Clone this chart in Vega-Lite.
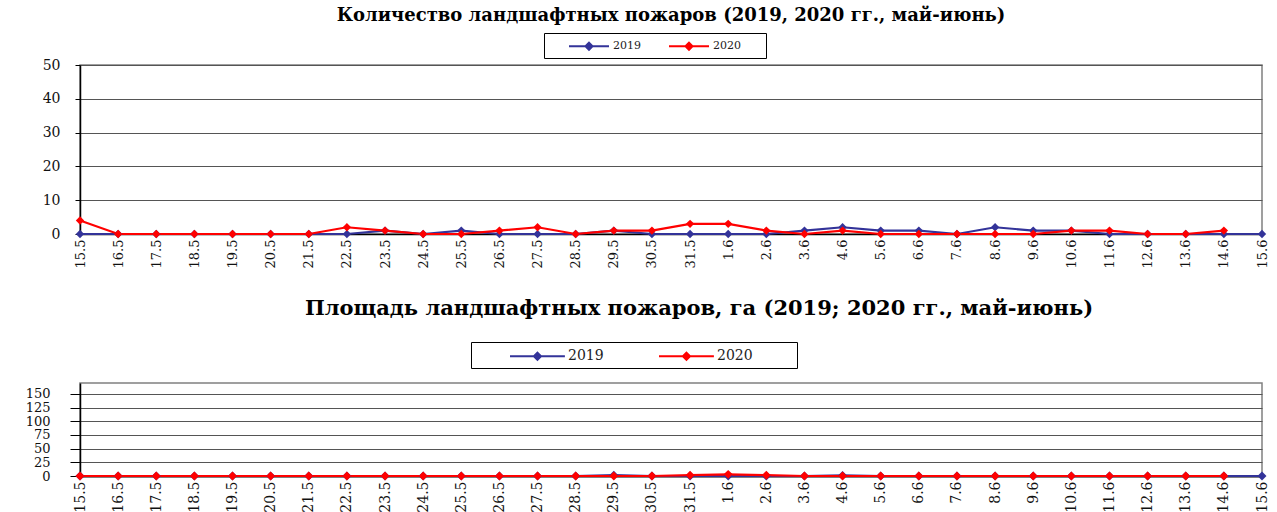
{
  "$schema": "https://vega.github.io/schema/vega-lite/v6.json",
  "background": "white",
  "padding": {"left": 24, "top": 5, "right": 5, "bottom": 0},
  "spacing": 27,
  "config": {
    "view": {"stroke": "#808080", "strokeWidth": 1.5},
    "font": "DejaVu Serif"
  },
  "datasets": {
    "count": [
      {"date": "15.5", "year": "2019", "value": 0},
      {"date": "16.5", "year": "2019", "value": 0},
      {"date": "17.5", "year": "2019", "value": 0},
      {"date": "18.5", "year": "2019", "value": 0},
      {"date": "19.5", "year": "2019", "value": 0},
      {"date": "20.5", "year": "2019", "value": 0},
      {"date": "21.5", "year": "2019", "value": 0},
      {"date": "22.5", "year": "2019", "value": 0},
      {"date": "23.5", "year": "2019", "value": 1},
      {"date": "24.5", "year": "2019", "value": 0},
      {"date": "25.5", "year": "2019", "value": 1},
      {"date": "26.5", "year": "2019", "value": 0},
      {"date": "27.5", "year": "2019", "value": 0},
      {"date": "28.5", "year": "2019", "value": 0},
      {"date": "29.5", "year": "2019", "value": 1},
      {"date": "30.5", "year": "2019", "value": 0},
      {"date": "31.5", "year": "2019", "value": 0},
      {"date": "1.6", "year": "2019", "value": 0},
      {"date": "2.6", "year": "2019", "value": 0},
      {"date": "3.6", "year": "2019", "value": 1},
      {"date": "4.6", "year": "2019", "value": 2},
      {"date": "5.6", "year": "2019", "value": 1},
      {"date": "6.6", "year": "2019", "value": 1},
      {"date": "7.6", "year": "2019", "value": 0},
      {"date": "8.6", "year": "2019", "value": 2},
      {"date": "9.6", "year": "2019", "value": 1},
      {"date": "10.6", "year": "2019", "value": 1},
      {"date": "11.6", "year": "2019", "value": 0},
      {"date": "12.6", "year": "2019", "value": 0},
      {"date": "13.6", "year": "2019", "value": 0},
      {"date": "14.6", "year": "2019", "value": 0},
      {"date": "15.6", "year": "2019", "value": 0},
      {"date": "15.5", "year": "2020", "value": 4},
      {"date": "16.5", "year": "2020", "value": 0},
      {"date": "17.5", "year": "2020", "value": 0},
      {"date": "18.5", "year": "2020", "value": 0},
      {"date": "19.5", "year": "2020", "value": 0},
      {"date": "20.5", "year": "2020", "value": 0},
      {"date": "21.5", "year": "2020", "value": 0},
      {"date": "22.5", "year": "2020", "value": 2},
      {"date": "23.5", "year": "2020", "value": 1},
      {"date": "24.5", "year": "2020", "value": 0},
      {"date": "25.5", "year": "2020", "value": 0},
      {"date": "26.5", "year": "2020", "value": 1},
      {"date": "27.5", "year": "2020", "value": 2},
      {"date": "28.5", "year": "2020", "value": 0},
      {"date": "29.5", "year": "2020", "value": 1},
      {"date": "30.5", "year": "2020", "value": 1},
      {"date": "31.5", "year": "2020", "value": 3},
      {"date": "1.6", "year": "2020", "value": 3},
      {"date": "2.6", "year": "2020", "value": 1},
      {"date": "3.6", "year": "2020", "value": 0},
      {"date": "4.6", "year": "2020", "value": 1},
      {"date": "5.6", "year": "2020", "value": 0},
      {"date": "6.6", "year": "2020", "value": 0},
      {"date": "7.6", "year": "2020", "value": 0},
      {"date": "8.6", "year": "2020", "value": 0},
      {"date": "9.6", "year": "2020", "value": 0},
      {"date": "10.6", "year": "2020", "value": 1},
      {"date": "11.6", "year": "2020", "value": 1},
      {"date": "12.6", "year": "2020", "value": 0},
      {"date": "13.6", "year": "2020", "value": 0},
      {"date": "14.6", "year": "2020", "value": 1}
    ],
    "area": [
      {"date": "15.5", "year": "2019", "value": 0},
      {"date": "16.5", "year": "2019", "value": 0},
      {"date": "17.5", "year": "2019", "value": 0},
      {"date": "18.5", "year": "2019", "value": 0},
      {"date": "19.5", "year": "2019", "value": 0},
      {"date": "20.5", "year": "2019", "value": 0},
      {"date": "21.5", "year": "2019", "value": 0},
      {"date": "22.5", "year": "2019", "value": 0},
      {"date": "23.5", "year": "2019", "value": 0},
      {"date": "24.5", "year": "2019", "value": 0},
      {"date": "25.5", "year": "2019", "value": 0},
      {"date": "26.5", "year": "2019", "value": 0},
      {"date": "27.5", "year": "2019", "value": 0},
      {"date": "28.5", "year": "2019", "value": 0},
      {"date": "29.5", "year": "2019", "value": 1.5},
      {"date": "30.5", "year": "2019", "value": 0},
      {"date": "31.5", "year": "2019", "value": 0},
      {"date": "1.6", "year": "2019", "value": 0},
      {"date": "2.6", "year": "2019", "value": 0},
      {"date": "3.6", "year": "2019", "value": 0},
      {"date": "4.6", "year": "2019", "value": 1},
      {"date": "5.6", "year": "2019", "value": 0},
      {"date": "6.6", "year": "2019", "value": 0},
      {"date": "7.6", "year": "2019", "value": 0},
      {"date": "8.6", "year": "2019", "value": 0},
      {"date": "9.6", "year": "2019", "value": 0},
      {"date": "10.6", "year": "2019", "value": 0},
      {"date": "11.6", "year": "2019", "value": 0},
      {"date": "12.6", "year": "2019", "value": 0},
      {"date": "13.6", "year": "2019", "value": 0},
      {"date": "14.6", "year": "2019", "value": 0},
      {"date": "15.6", "year": "2019", "value": 0},
      {"date": "15.5", "year": "2020", "value": 0},
      {"date": "16.5", "year": "2020", "value": 0},
      {"date": "17.5", "year": "2020", "value": 0},
      {"date": "18.5", "year": "2020", "value": 0},
      {"date": "19.5", "year": "2020", "value": 0},
      {"date": "20.5", "year": "2020", "value": 0},
      {"date": "21.5", "year": "2020", "value": 0},
      {"date": "22.5", "year": "2020", "value": 0},
      {"date": "23.5", "year": "2020", "value": 0},
      {"date": "24.5", "year": "2020", "value": 0},
      {"date": "25.5", "year": "2020", "value": 0},
      {"date": "26.5", "year": "2020", "value": 0},
      {"date": "27.5", "year": "2020", "value": 0},
      {"date": "28.5", "year": "2020", "value": 0},
      {"date": "29.5", "year": "2020", "value": 0},
      {"date": "30.5", "year": "2020", "value": 0},
      {"date": "31.5", "year": "2020", "value": 1.5},
      {"date": "1.6", "year": "2020", "value": 3},
      {"date": "2.6", "year": "2020", "value": 1.5},
      {"date": "3.6", "year": "2020", "value": 0},
      {"date": "4.6", "year": "2020", "value": 0},
      {"date": "5.6", "year": "2020", "value": 0},
      {"date": "6.6", "year": "2020", "value": 0},
      {"date": "7.6", "year": "2020", "value": 0},
      {"date": "8.6", "year": "2020", "value": 0},
      {"date": "9.6", "year": "2020", "value": 0},
      {"date": "10.6", "year": "2020", "value": 0},
      {"date": "11.6", "year": "2020", "value": 0},
      {"date": "12.6", "year": "2020", "value": 0},
      {"date": "13.6", "year": "2020", "value": 0},
      {"date": "14.6", "year": "2020", "value": 0}
    ]
  },
  "vconcat": [
    {
      "width": 1182,
      "height": 169,
      "data": {"name": "count"},
      "title": {
        "text": "Количество ландшафтных пожаров (2019, 2020  гг., май-июнь)",
        "font": "DejaVu Serif",
        "fontSize": 18,
        "fontWeight": "bold",
        "color": "black",
        "anchor": "middle",
        "offset": 8
      },
      "encoding": {
        "x": {
          "field": "date",
          "type": "ordinal",
          "sort": ["15.5","16.5","17.5","18.5","19.5","20.5","21.5","22.5","23.5","24.5","25.5","26.5","27.5","28.5","29.5","30.5","31.5","1.6","2.6","3.6","4.6","5.6","6.6","7.6","8.6","9.6","10.6","11.6","12.6","13.6","14.6","15.6"],
          "scale": {"type": "point", "padding": 0},
          "axis": {
            "title": null,
            "labelAngle": -90,
            "labelAlign": "right",
            "labelBaseline": "middle",
            "labelFont": "DejaVu Serif",
            "labelFontSize": 13,
            "labelColor": "#111",
            "labelPadding": 5,
            "ticks": false,
            "domainColor": "black",
            "domainWidth": 1.5,
            "grid": false
          }
        },
        "y": {
          "field": "value",
          "type": "quantitative",
          "scale": {"domain": [0, 50], "nice": false},
          "axis": {
            "title": null,
            "values": [0, 10, 20, 30, 40, 50],
            "grid": true,
            "gridColor": "#555",
            "gridWidth": 1,
            "domainColor": "black",
            "domainWidth": 1.5,
            "tickColor": "black",
            "tickSize": 5,
            "labelFont": "DejaVu Serif",
            "labelFontSize": 14,
            "labelColor": "#111",
            "labelPadding": 15
          }
        },
        "color": {
          "field": "year",
          "type": "nominal",
          "scale": {"domain": ["2019", "2020"], "range": ["#333399", "#ff0000"]},
          "legend": {
            "orient": "none",
            "legendX": 464,
            "legendY": -32,
            "direction": "horizontal",
            "title": " ",
            "titleOrient": "left",
            "titleFontSize": 11,
            "titlePadding": 20,
            "labelExpr": "datum.label == '2020' ? datum.label + '\u00a0\u00a0\u00a0\u00a0\u00a0\u00a0\u200b' : datum.label",
            "symbolType": "M-1,0H4M1.5,-0.44L1.94,0L1.5,0.44L1.06,0Z",
            "symbolSize": 256,
            "symbolStrokeWidth": 2,
            "strokeColor": "black",
            "padding": 4,
            "labelFont": "DejaVu Serif",
            "labelFontSize": 11,
            "labelColor": "#222",
            "labelOffset": 27,
            "columnPadding": 24
          }
        }
      },
      "layer": [
        {"mark": {"type": "line", "strokeWidth": 2.2}},
        {"mark": {"type": "point", "shape": "diamond", "filled": true, "size": 70, "opacity": 1}}
      ]
    },
    {
      "width": 1182,
      "height": 93,
      "data": {"name": "area"},
      "title": {
        "text": "Площадь ландшафтных пожаров, га (2019;  2020 гг.,  май-июнь)",
        "font": "DejaVu Serif",
        "fontSize": 21,
        "fontWeight": "bold",
        "color": "black",
        "anchor": "middle",
        "dx": 28,
        "offset": 23
      },
      "encoding": {
        "x": {
          "field": "date",
          "type": "ordinal",
          "sort": ["15.5","16.5","17.5","18.5","19.5","20.5","21.5","22.5","23.5","24.5","25.5","26.5","27.5","28.5","29.5","30.5","31.5","1.6","2.6","3.6","4.6","5.6","6.6","7.6","8.6","9.6","10.6","11.6","12.6","13.6","14.6","15.6"],
          "scale": {"type": "point", "padding": 0},
          "axis": {
            "title": null,
            "labelAngle": -90,
            "labelAlign": "right",
            "labelBaseline": "middle",
            "labelFont": "DejaVu Serif",
            "labelFontSize": 14,
            "labelColor": "#111",
            "labelPadding": 5,
            "ticks": false,
            "domainColor": "black",
            "domainWidth": 2,
            "grid": false
          }
        },
        "y": {
          "field": "value",
          "type": "quantitative",
          "scale": {"domain": [0, 170], "nice": false},
          "axis": {
            "title": null,
            "values": [0, 25, 50, 75, 100, 125, 150],
            "grid": true,
            "gridColor": "#555",
            "gridWidth": 1,
            "domainColor": "black",
            "domainWidth": 1.5,
            "tickColor": "black",
            "tickSize": 10,
            "labelFont": "DejaVu Serif",
            "labelFontSize": 13,
            "labelColor": "#111",
            "labelPadding": 20
          }
        },
        "color": {
          "field": "year",
          "type": "nominal",
          "scale": {"domain": ["2019", "2020"], "range": ["#333399", "#ff0000"]},
          "legend": {
            "orient": "none",
            "legendX": 391,
            "legendY": -41,
            "direction": "horizontal",
            "title": " ",
            "titleOrient": "left",
            "titleFontSize": 14,
            "titlePadding": 34,
            "labelExpr": "datum.label == '2020' ? datum.label + '\u00a0\u00a0\u00a0\u00a0\u00a0\u00a0\u00a0\u00a0\u00a0\u200b' : datum.label",
            "symbolType": "M-1,0H5.1M2.05,-0.4L2.45,0L2.05,0.4L1.65,0Z",
            "symbolSize": 324,
            "symbolStrokeWidth": 2,
            "strokeColor": "black",
            "padding": 4,
            "labelFont": "DejaVu Serif",
            "labelFontSize": 14,
            "labelColor": "#222",
            "labelOffset": 39,
            "columnPadding": 51
          }
        }
      },
      "layer": [
        {"mark": {"type": "line", "strokeWidth": 2.2}},
        {"mark": {"type": "point", "shape": "diamond", "filled": true, "size": 80, "opacity": 1}}
      ]
    }
  ],
  "resolve": {"scale": {"color": "independent"}, "legend": {"color": "independent"}}
}
